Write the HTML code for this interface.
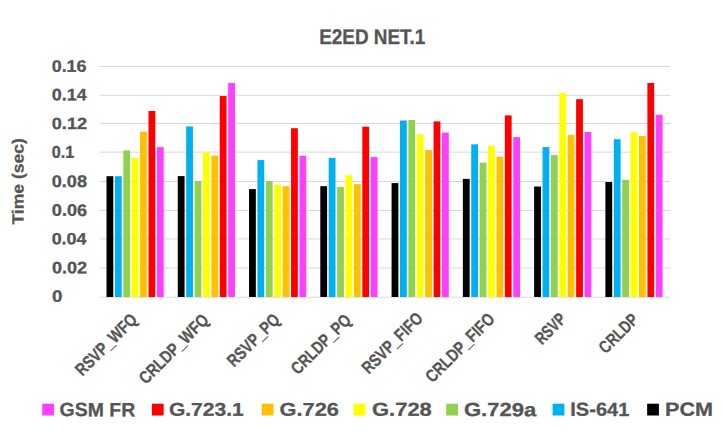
<!DOCTYPE html><html><head><meta charset="utf-8"><style>html,body{margin:0;padding:0;background:#fff;width:722px;height:431px;overflow:hidden}svg{display:block}text{font-family:"Liberation Sans",sans-serif;font-weight:bold;fill:#555555}</style></head><body>
<svg width="722" height="431" viewBox="0 0 722 431">
<rect x="0" y="0" width="722" height="431" fill="#fff"/>
<rect x="99.50" y="296.70" width="570.90" height="1" fill="#D9D9D9"/>
<rect x="99.50" y="267.40" width="570.90" height="1" fill="#D9D9D9"/>
<rect x="99.50" y="238.40" width="570.90" height="1" fill="#D9D9D9"/>
<rect x="99.50" y="209.90" width="570.90" height="1" fill="#D9D9D9"/>
<rect x="99.50" y="181.00" width="570.90" height="1" fill="#D9D9D9"/>
<rect x="99.50" y="151.60" width="570.90" height="1" fill="#D9D9D9"/>
<rect x="99.50" y="123.00" width="570.90" height="1" fill="#D9D9D9"/>
<rect x="99.50" y="94.80" width="570.90" height="1" fill="#D9D9D9"/>
<rect x="99.50" y="66.00" width="570.90" height="1" fill="#D9D9D9"/>
<rect x="106.50" y="176.20" width="6.80" height="120.80" fill="#000000"/>
<rect x="114.90" y="176.20" width="6.80" height="120.80" fill="#00B0F0"/>
<rect x="123.30" y="150.45" width="6.80" height="146.55" fill="#92D050"/>
<rect x="131.70" y="158.00" width="6.80" height="139.00" fill="#FFFF00"/>
<rect x="140.10" y="131.70" width="6.80" height="165.30" fill="#FFC000"/>
<rect x="148.50" y="111.00" width="6.80" height="186.00" fill="#FF0000"/>
<rect x="156.90" y="147.10" width="6.80" height="149.90" fill="#FF3FFF"/>
<rect x="177.77" y="176.10" width="6.80" height="120.90" fill="#000000"/>
<rect x="186.17" y="126.45" width="6.80" height="170.55" fill="#00B0F0"/>
<rect x="194.57" y="181.10" width="6.80" height="115.90" fill="#92D050"/>
<rect x="202.97" y="152.20" width="6.80" height="144.80" fill="#FFFF00"/>
<rect x="211.37" y="155.70" width="6.80" height="141.30" fill="#FFC000"/>
<rect x="219.77" y="96.05" width="6.80" height="200.95" fill="#FF0000"/>
<rect x="228.17" y="83.00" width="6.80" height="214.00" fill="#FF3FFF"/>
<rect x="249.04" y="189.10" width="6.80" height="107.90" fill="#000000"/>
<rect x="257.44" y="160.10" width="6.80" height="136.90" fill="#00B0F0"/>
<rect x="265.84" y="181.20" width="6.80" height="115.80" fill="#92D050"/>
<rect x="274.24" y="184.60" width="6.80" height="112.40" fill="#FFFF00"/>
<rect x="282.64" y="186.20" width="6.80" height="110.80" fill="#FFC000"/>
<rect x="291.04" y="128.20" width="6.80" height="168.80" fill="#FF0000"/>
<rect x="299.44" y="155.80" width="6.80" height="141.20" fill="#FF3FFF"/>
<rect x="320.31" y="186.20" width="6.80" height="110.80" fill="#000000"/>
<rect x="328.71" y="157.90" width="6.80" height="139.10" fill="#00B0F0"/>
<rect x="337.11" y="187.10" width="6.80" height="109.90" fill="#92D050"/>
<rect x="345.51" y="175.20" width="6.80" height="121.80" fill="#FFFF00"/>
<rect x="353.91" y="184.20" width="6.80" height="112.80" fill="#FFC000"/>
<rect x="362.31" y="126.70" width="6.80" height="170.30" fill="#FF0000"/>
<rect x="370.71" y="157.10" width="6.80" height="139.90" fill="#FF3FFF"/>
<rect x="391.58" y="183.10" width="6.80" height="113.90" fill="#000000"/>
<rect x="399.98" y="120.50" width="6.80" height="176.50" fill="#00B0F0"/>
<rect x="408.38" y="120.00" width="6.80" height="177.00" fill="#92D050"/>
<rect x="416.78" y="134.20" width="6.80" height="162.80" fill="#FFFF00"/>
<rect x="425.18" y="150.10" width="6.80" height="146.90" fill="#FFC000"/>
<rect x="433.58" y="121.40" width="6.80" height="175.60" fill="#FF0000"/>
<rect x="441.98" y="132.60" width="6.80" height="164.40" fill="#FF3FFF"/>
<rect x="462.85" y="178.90" width="6.80" height="118.10" fill="#000000"/>
<rect x="471.25" y="144.30" width="6.80" height="152.70" fill="#00B0F0"/>
<rect x="479.65" y="162.60" width="6.80" height="134.40" fill="#92D050"/>
<rect x="488.05" y="145.90" width="6.80" height="151.10" fill="#FFFF00"/>
<rect x="496.45" y="156.60" width="6.80" height="140.40" fill="#FFC000"/>
<rect x="504.85" y="115.40" width="6.80" height="181.60" fill="#FF0000"/>
<rect x="513.25" y="137.10" width="6.80" height="159.90" fill="#FF3FFF"/>
<rect x="534.12" y="186.50" width="6.80" height="110.50" fill="#000000"/>
<rect x="542.52" y="147.10" width="6.80" height="149.90" fill="#00B0F0"/>
<rect x="550.92" y="155.10" width="6.80" height="141.90" fill="#92D050"/>
<rect x="559.32" y="92.90" width="6.80" height="204.10" fill="#FFFF00"/>
<rect x="567.72" y="135.00" width="6.80" height="162.00" fill="#FFC000"/>
<rect x="576.12" y="99.20" width="6.80" height="197.80" fill="#FF0000"/>
<rect x="584.52" y="132.00" width="6.80" height="165.00" fill="#FF3FFF"/>
<rect x="605.39" y="182.00" width="6.80" height="115.00" fill="#000000"/>
<rect x="613.79" y="139.20" width="6.80" height="157.80" fill="#00B0F0"/>
<rect x="622.19" y="179.80" width="6.80" height="117.20" fill="#92D050"/>
<rect x="630.59" y="132.20" width="6.80" height="164.80" fill="#FFFF00"/>
<rect x="638.99" y="135.90" width="6.80" height="161.10" fill="#FFC000"/>
<rect x="647.39" y="83.00" width="6.80" height="214.00" fill="#FF0000"/>
<rect x="655.79" y="114.80" width="6.80" height="182.20" fill="#FF3FFF"/>
<text transform="translate(319.184,43.921) rotate(0.03) scale(0.9453,1.0574)" text-anchor="start" font-size="20.00" stroke="#555555" stroke-width="0.30">E2ED NET.1</text>
<text transform="translate(52.072,301.807) rotate(0.03) scale(1.1359,0.9989)" text-anchor="start" font-size="16.50" stroke="#555555" stroke-width="0.30">0</text>
<text transform="translate(52.064,273.294) rotate(0.03) scale(1.0929,1.0018)" text-anchor="start" font-size="16.50" stroke="#555555" stroke-width="0.30">0.02</text>
<text transform="translate(51.663,244.268) rotate(0.03) scale(1.0852,0.9881)" text-anchor="start" font-size="16.50" stroke="#555555" stroke-width="0.30">0.04</text>
<text transform="translate(51.819,215.863) rotate(0.03) scale(1.0988,1.0117)" text-anchor="start" font-size="16.50" stroke="#555555" stroke-width="0.30">0.06</text>
<text transform="translate(51.662,187.096) rotate(0.03) scale(1.1009,1.0153)" text-anchor="start" font-size="16.50" stroke="#555555" stroke-width="0.30">0.08</text>
<text transform="translate(51.743,157.787) rotate(0.03) scale(0.9773,1.0379)" text-anchor="start" font-size="16.50" stroke="#555555" stroke-width="0.30">0.1</text>
<text transform="translate(51.803,129.039) rotate(0.03) scale(1.0978,0.9828)" text-anchor="start" font-size="16.50" stroke="#555555" stroke-width="0.30">0.12</text>
<text transform="translate(51.816,100.274) rotate(0.03) scale(1.0867,0.9967)" text-anchor="start" font-size="16.50" stroke="#555555" stroke-width="0.30">0.14</text>
<text transform="translate(51.680,71.743) rotate(0.03) scale(1.0855,1.0052)" text-anchor="start" font-size="16.50" stroke="#555555" stroke-width="0.30">0.16</text>
<text transform="translate(23.411,181.367) rotate(-89.97) scale(1.0334,0.9531)" text-anchor="middle" font-size="17.00" stroke="#555555" stroke-width="0.30">Time (sec)</text>
<text transform="translate(138.345,320.641) rotate(-45) scale(0.8096,1.0000)" text-anchor="end" font-size="17.50" stroke="#555555" stroke-width="0.30">RSVP_WFQ</text>
<text transform="translate(209.875,321.092) rotate(-45) scale(0.8165,1.0000)" text-anchor="end" font-size="17.50" stroke="#555555" stroke-width="0.30">CRLDP_WFQ</text>
<text transform="translate(280.945,320.853) rotate(-45) scale(0.8042,1.0000)" text-anchor="end" font-size="17.50" stroke="#555555" stroke-width="0.30">RSVP_PQ</text>
<text transform="translate(352.130,321.316) rotate(-45) scale(0.8040,1.0000)" text-anchor="end" font-size="17.50" stroke="#555555" stroke-width="0.30">CRLDP_PQ</text>
<text transform="translate(424.049,319.481) rotate(-45) scale(0.8058,1.0000)" text-anchor="end" font-size="17.50" stroke="#555555" stroke-width="0.30">RSVP_FIFO</text>
<text transform="translate(495.754,320.153) rotate(-45) scale(0.8156,1.0000)" text-anchor="end" font-size="17.50" stroke="#555555" stroke-width="0.30">CRLDP_FIFO</text>
<text transform="translate(567.127,320.199) rotate(-45) scale(0.7482,1.0000)" text-anchor="end" font-size="17.50" stroke="#555555" stroke-width="0.30">RSVP</text>
<text transform="translate(639.470,320.796) rotate(-45) scale(0.7892,1.0000)" text-anchor="end" font-size="17.50" stroke="#555555" stroke-width="0.30">CRLDP</text>
<text transform="translate(59.569,416.116) rotate(0.03) scale(0.9731,0.9573)" text-anchor="start" font-size="20.00" stroke="#555555" stroke-width="0.30">GSM FR</text>
<text transform="translate(168.876,415.774) rotate(0.03) scale(1.0529,0.9252)" text-anchor="start" font-size="20.00" stroke="#555555" stroke-width="0.30">G.723.1</text>
<text transform="translate(279.527,415.808) rotate(0.03) scale(1.0922,0.9270)" text-anchor="start" font-size="20.00" stroke="#555555" stroke-width="0.30">G.726</text>
<text transform="translate(372.038,415.761) rotate(0.03) scale(1.0973,0.9400)" text-anchor="start" font-size="20.00" stroke="#555555" stroke-width="0.30">G.728</text>
<text transform="translate(463.876,416.101) rotate(0.03) scale(1.1058,0.9524)" text-anchor="start" font-size="20.00" stroke="#555555" stroke-width="0.30">G.729a</text>
<text transform="translate(570.304,415.858) rotate(0.03) scale(1.0015,0.9452)" text-anchor="start" font-size="20.00" stroke="#555555" stroke-width="0.30">IS-641</text>
<text transform="translate(665.124,415.810) rotate(0.03) scale(1.0800,0.9495)" text-anchor="start" font-size="20.00" stroke="#555555" stroke-width="0.30">PCM</text>
<rect x="42.20" y="403.70" width="11.80" height="11.80" fill="#FF3FFF"/>
<rect x="151.85" y="403.70" width="11.80" height="11.80" fill="#FF0000"/>
<rect x="261.70" y="403.70" width="11.80" height="11.80" fill="#FFC000"/>
<rect x="353.65" y="403.70" width="11.80" height="11.80" fill="#FFFF00"/>
<rect x="446.20" y="403.70" width="11.80" height="11.80" fill="#92D050"/>
<rect x="552.60" y="403.70" width="11.80" height="11.80" fill="#00B0F0"/>
<rect x="647.15" y="403.70" width="11.80" height="11.80" fill="#000000"/>
</svg></body></html>
